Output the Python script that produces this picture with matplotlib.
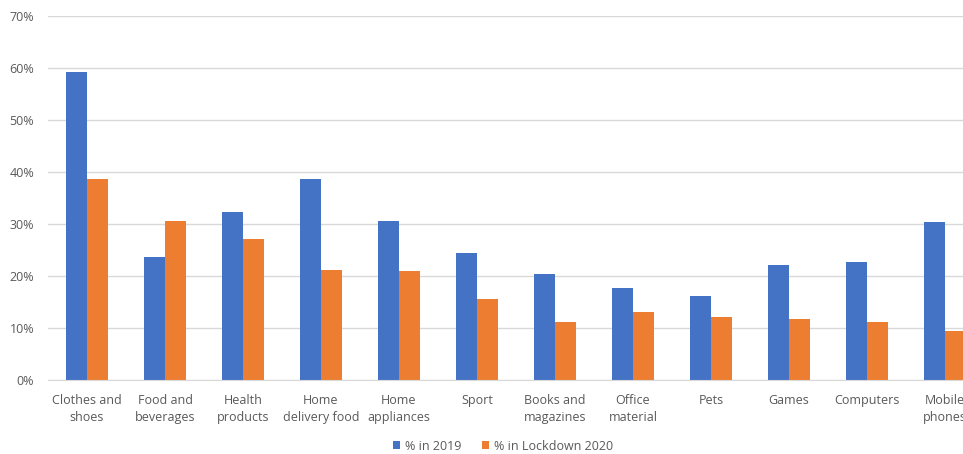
import numpy as np
import matplotlib.pyplot as plt
from matplotlib.ticker import PercentFormatter

plt.rcParams['font.family'] = ['Open Sans', 'DejaVu Sans']

# dados
categories = ['Clothes and\nshoes', 'Food and\nbeverages', 'Health\nproducts',
              'Home\ndelivery food', 'Home\nappliances', 'Sport', 'Books and\nmagazines',
              'Office\nmaterial', 'Pets', 'Games', 'Computers', 'Mobile\nphones']
pct_2019 = [59.3, 23.7, 32.4, 38.6, 30.6, 24.5, 20.3, 17.7, 16.2, 22.2, 22.6, 30.3]
pct_2020 = [38.6, 30.5, 27.1, 21.1, 20.9, 15.5, 11.1, 13.0, 12.2, 11.7, 11.2, 9.4]

blue = '#4472C4'
orange = '#ED7D31'
grey_text = '#595959'
grid_col = '#D9D9D9'

W, H = 963, 454
fig = plt.figure(figsize=(W / 100, H / 100), dpi=100)
# o gráfico original está cortado à direita, então o eixo passa da borda
ax = fig.add_axes([48 / W, 1 - 380 / H, (984 - 48) / W, (380 - 16) / H])

x = np.arange(len(categories))
w = 0.263
ax.bar(x - w / 2, np.array(pct_2019) / 100, w, color=blue, label='% in 2019')
ax.bar(x + w / 2, np.array(pct_2020) / 100, w, color=orange, label='% in Lockdown 2020')

ax.set_xlim(-0.5, len(categories) - 0.5)
ax.set_ylim(0, 0.7)
ax.set_yticks(np.arange(0, 0.71, 0.1))
ax.yaxis.set_major_formatter(PercentFormatter(1.0, decimals=0))
ax.set_xticks(x)
ax.set_xticklabels(categories, linespacing=1.4)

ax.grid(axis='y', color=grid_col, linewidth=1)
ax.set_axisbelow(True)
for s in ['top', 'right', 'left']:
    ax.spines[s].set_visible(False)
ax.spines['bottom'].set_color(grid_col)
ax.tick_params(axis='both', length=0, colors=grey_text, labelsize=9)
ax.tick_params(axis='x', pad=10)
ax.tick_params(axis='y', pad=10)

fig.legend(loc='center', bbox_to_anchor=(503 / W, 1 - 446 / H), ncol=2, frameon=False,
           fontsize=9, labelcolor=grey_text, handlelength=0.6, handleheight=0.6,
           columnspacing=1.6, handletextpad=0.4)

fig.savefig('out.png', dpi=100)
